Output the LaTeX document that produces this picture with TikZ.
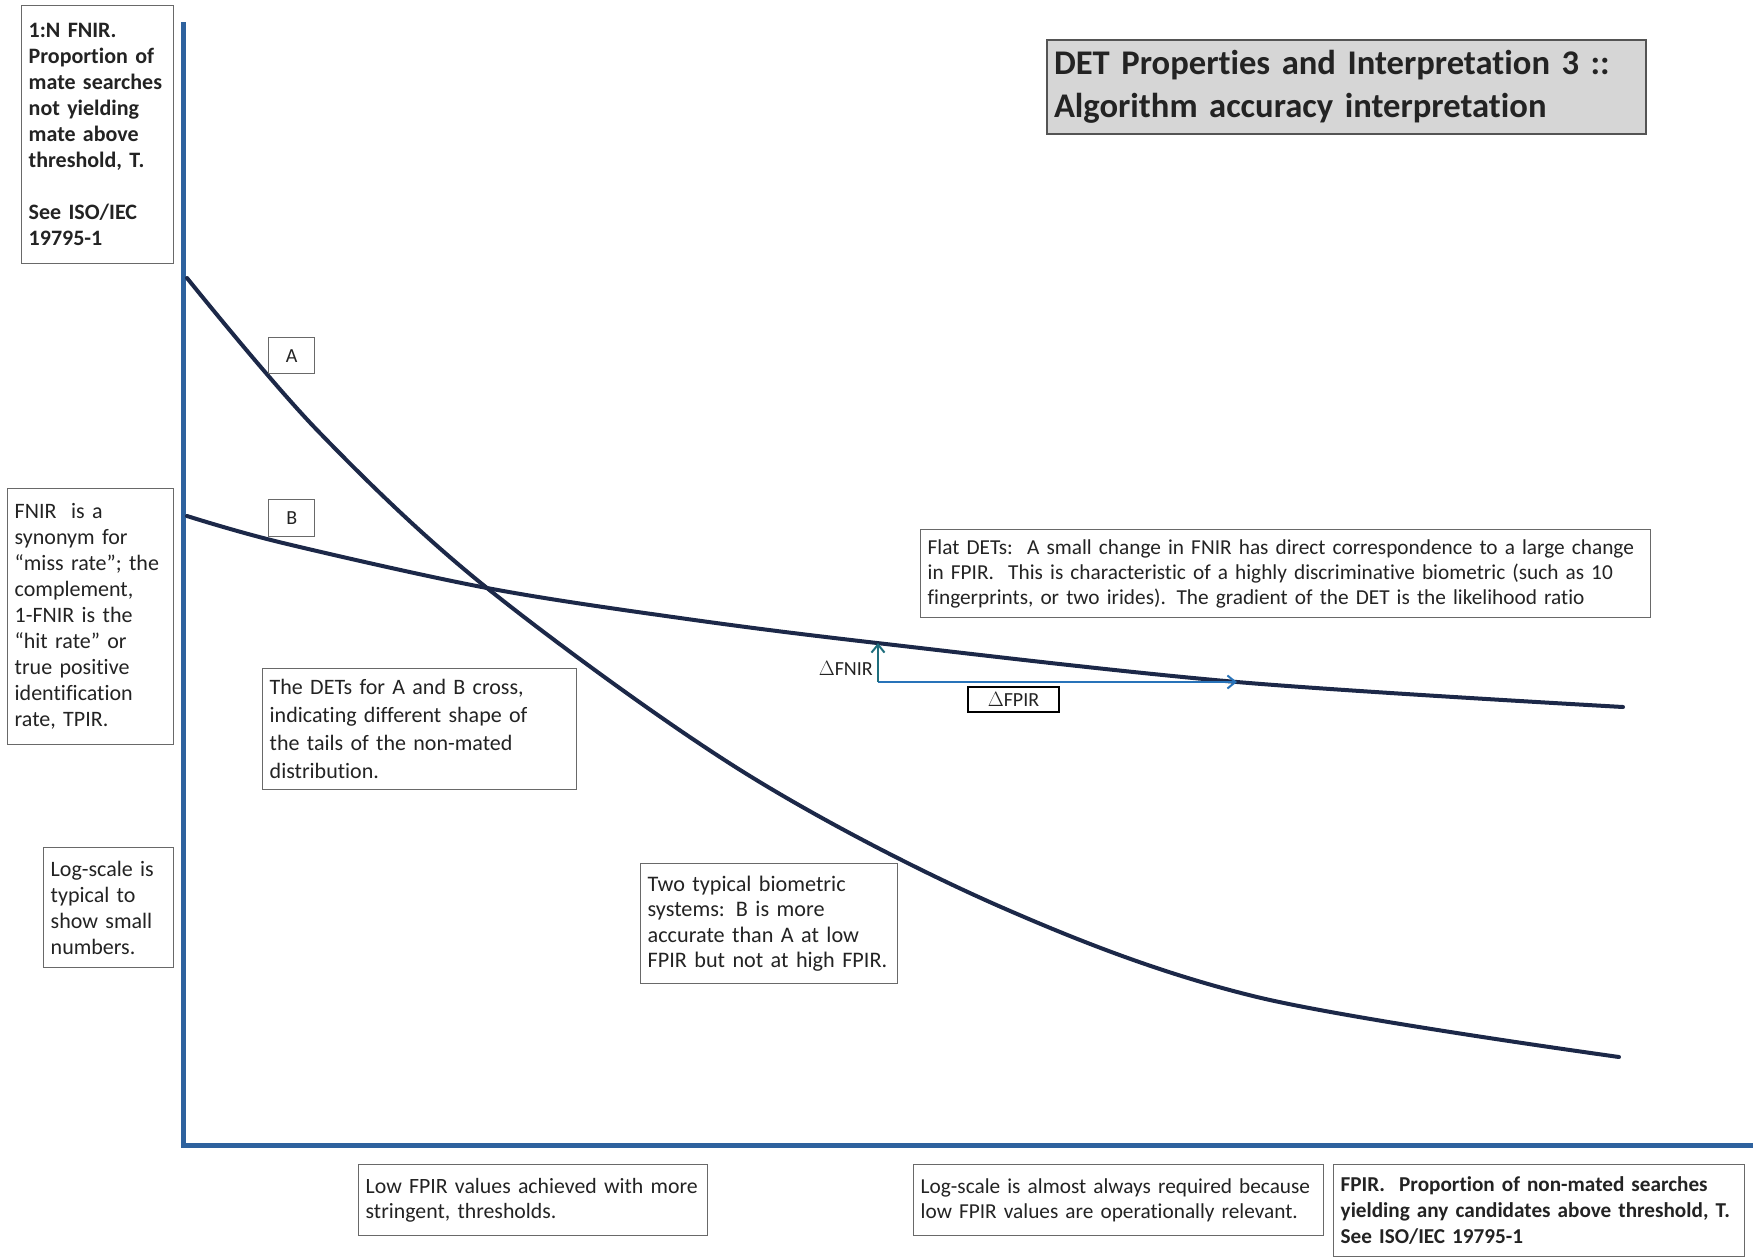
\documentclass[tikz,border=0pt]{standalone}
\usepackage{fontspec}
\setmainfont{Carlito}[Ligatures=NoCommon]
\usetikzlibrary{arrows.meta}
\hyphenpenalty=10000
\exhyphenpenalty=10000
\definecolor{axisblue}{RGB}{46,98,158}
\definecolor{curvenavy}{RGB}{28,40,72}
\definecolor{boxgray}{RGB}{105,105,105}
\definecolor{titlefill}{RGB}{214,214,214}
\definecolor{txt}{RGB}{35,35,35}
\definecolor{fnirteal}{RGB}{30,110,125}
\definecolor{fpirblue}{RGB}{40,115,185}
\begin{document}
\begin{tikzpicture}[x=1pt,y=-1pt,
  note/.style={draw=boxgray, line width=1.4pt, fill=white, text=txt, align=left,
    anchor=north west, inner xsep=7pt, inner ysep=3pt},
  notebox/.style 2 args={note, text width=#1pt-14pt, minimum height=#2pt},
  axisline/.style={draw=axisblue, line width=5pt},
  detcurve/.style={draw=curvenavy, line width=4pt, line cap=round},
  tip/.style={-{Straight Barb[length=8pt,width=13pt,line width=2pt]}, line width=2pt},
  fleft/.style={font=\fontsize{22}{26}\selectfont},
  fbody/.style={font=\fontsize{21.3}{24.8}\selectfont},
]
\useasboundingbox (0,0) rectangle (1764,1258);
\fill[white] (0,0) rectangle (1764,1258);

% axes
\coordinate (ytop) at (183,22);
\coordinate (orig) at (183,1145);
\coordinate (xend) at (1753,1145);
\draw[axisline] (ytop) -- (orig) -- (xend);

% DET curves
\draw[detcurve] plot[smooth, tension=0.55] coordinates
  {(187,278) (317,430) (487,588) (745,773) (1001,907) (1257,997) (1619,1057)};
\draw[detcurve] plot[smooth, tension=0.55] coordinates
  {(187,516) (283,543) (487,588) (680,618) (877,643) (1237,682) (1623,707)};

% delta arrows
\coordinate (dO) at (878,682);
\coordinate (dT) at (878,643);
\coordinate (dR) at (1237,682);
\draw[tip, draw=fpirblue] (dO) -- (dR);
\draw[tip, draw=fnirteal] (dO) -- (dT);
\node[text=txt, font=\fontsize{20}{24}\selectfont, anchor=east, inner sep=1pt] (dfnir) at (874,668) {$\Delta$FNIR};
\node[note, draw=black, line width=2pt, minimum width=91pt, minimum height=25pt, inner sep=0pt, anchor=north west,
  align=center, font=\fontsize{20}{24}\selectfont] (dfpir) at (967,686) {$\Delta$FPIR};

% title
\node[notebox={599}{94}, fill=titlefill, draw=boxgray!80!black, line width=2pt,
  font=\bfseries\fontsize{34.6}{43}\selectfont] (title) at (1046,39)
  {DET Properties and Interpretation 3 ::\\Algorithm accuracy interpretation};

% left boxes
\node[notebox={152}{258}, font=\bfseries\fontsize{22}{26}\selectfont] (yaxis) at (21,5)
  {1:N FNIR.\\Proportion of\\mate searches\\not yielding\\mate above\\threshold,\ T.\\[26pt]See\ ISO/IEC\\19795-1};
\node[notebox={166}{256}, fleft] (fnir) at (7,488)
  {FNIR\ \ is a\\synonym for\\“miss rate”; the\\complement,\\1-FNIR is the\\“hit rate” or\\true positive\\identification\\rate, TPIR.};
\node[notebox={130}{120}, fleft] (logy) at (43,847)
  {Log-scale is\\typical to\\show small\\numbers.};

% curve labels
\node[note, minimum width=46pt, minimum height=36pt, align=center, inner sep=0pt,
  font=\fontsize{20}{24}\selectfont] (labA) at (268,337) {A};
\node[note, minimum width=46pt, minimum height=37pt, align=center, inner sep=0pt,
  font=\fontsize{20}{24}\selectfont] (labB) at (268,499) {B};

% middle notes
\node[notebox={314}{121}, font=\fontsize{22}{28}\selectfont] (cross) at (262,668)
  {The DETs for A and B cross,\\indicating\ different\ shape of\\the tails of the non-mated\\distribution.};
\node[notebox={257}{120}, font=\fontsize{22.2}{25.5}\selectfont] (typical) at (640,863)
  {Two\ typical biometric\\systems: B is more\\accurate than A at low\\FPIR but not at high FPIR.};
\node[notebox={730}{88}, fbody] (flat) at (920,529)
  {Flat DETs:\ \ A small change in FNIR has direct correspondence to a large change\\in FPIR.\ \ This is characteristic of a highly discriminative biometric (such as 10\\fingerprints, or two irides). The gradient of the DET is the likelihood ratio};

% bottom notes
\node[notebox={349}{71}, font=\fontsize{21.8}{25}\selectfont] (lowfpir) at (358,1164)
  {Low FPIR values achieved with more\\stringent, thresholds.};
\node[notebox={410}{71}, font=\fontsize{21.3}{25}\selectfont] (logx) at (913,1164)
  {Log-scale is almost always required because\\low FPIR values are operationally relevant.};
\node[notebox={411}{92}, font=\bfseries\fontsize{21.2}{26}\selectfont] (xaxis) at (1333,1164)
  {FPIR.\ \ Proportion of non-mated searches\\yielding any candidates above threshold, T.\\See ISO/IEC 19795-1};
\end{tikzpicture}
\end{document}
